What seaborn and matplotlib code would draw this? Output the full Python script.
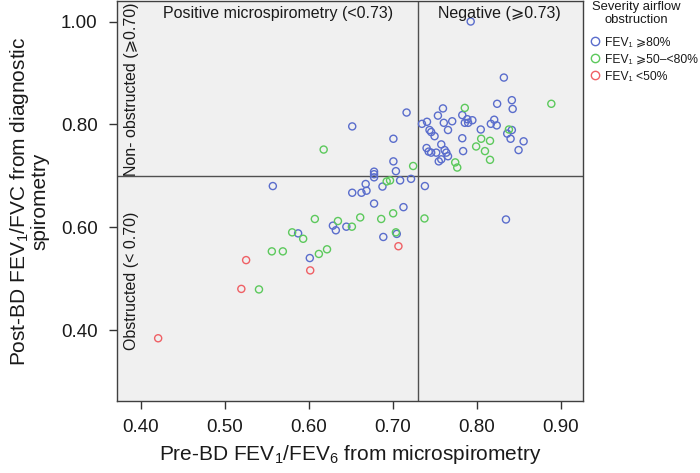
import matplotlib
matplotlib.use("Agg")
import matplotlib.pyplot as plt
from matplotlib.lines import Line2D
import seaborn as sns
import pandas as pd

# ---------------- data ----------------
blue_x = [0.793, 0.8325, 0.8245, 0.842, 0.843, 0.760, 0.7167, 0.652, 0.754, 0.783,
          0.789, 0.795, 0.786, 0.790, 0.771, 0.761, 0.741, 0.735, 0.766, 0.744,
          0.746, 0.750, 0.817, 0.821, 0.824, 0.805, 0.842, 0.8365, 0.8405, 0.856,
          0.850, 0.783, 0.784, 0.701, 0.758, 0.7405, 0.743, 0.746, 0.752, 0.762,
          0.764, 0.766, 0.758, 0.755, 0.701, 0.704, 0.678, 0.678, 0.678, 0.709,
          0.722, 0.5575, 0.7385, 0.668, 0.688, 0.652, 0.663, 0.669, 0.678, 0.713,
          0.835, 0.629, 0.6325, 0.645, 0.5876, 0.705, 0.689, 0.6015]
blue_y = [1.000, 0.891, 0.840, 0.847, 0.830, 0.831, 0.823, 0.796, 0.817, 0.818,
          0.810, 0.808, 0.803, 0.803, 0.806, 0.803, 0.805, 0.801, 0.789, 0.789,
          0.785, 0.777, 0.801, 0.809, 0.798, 0.790, 0.789, 0.782, 0.772, 0.767,
          0.750, 0.773, 0.748, 0.772, 0.761, 0.754, 0.747, 0.745, 0.745, 0.750,
          0.745, 0.738, 0.732, 0.728, 0.728, 0.709, 0.708, 0.703, 0.697, 0.691,
          0.694, 0.680, 0.680, 0.684, 0.679, 0.667, 0.667, 0.671, 0.646, 0.639,
          0.615, 0.603, 0.594, 0.601, 0.588, 0.587, 0.581, 0.540]

green_x = [0.889, 0.786, 0.8385, 0.8055, 0.816, 0.7995, 0.810, 0.816, 0.7746, 0.777,
           0.618, 0.7245, 0.693, 0.697, 0.7007, 0.738, 0.6865, 0.6615, 0.635, 0.6075,
           0.6516, 0.5805, 0.5936, 0.704, 0.5563, 0.5694, 0.622, 0.6123, 0.541]
green_y = [0.840, 0.832, 0.790, 0.772, 0.768, 0.757, 0.748, 0.731, 0.726, 0.716,
           0.751, 0.719, 0.689, 0.691, 0.627, 0.617, 0.616, 0.619, 0.612, 0.616,
           0.601, 0.590, 0.5775, 0.590, 0.553, 0.553, 0.557, 0.548, 0.479]

red_x = [0.707, 0.5257, 0.602, 0.520, 0.421]
red_y = [0.563, 0.536, 0.516, 0.480, 0.384]

severity_labels = ["FEV\u2081 \u2a7e80%", "FEV\u2081 \u2a7e50\u2013<80%", "FEV\u2081 <50%"]
legend_title = "Severity airflow\nobstruction"
x_ticks = [0.40, 0.50, 0.60, 0.70, 0.80, 0.90]
y_ticks = [0.40, 0.60, 0.80, 1.00]
x_cut = 0.73
y_cut = 0.70

colors = ["#5a6dcc", "#5cc95c", "#ef6065"]

df = pd.DataFrame({
    "micro": blue_x + green_x + red_x,
    "diag": blue_y + green_y + red_y,
    "severity": ([severity_labels[0]] * len(blue_x) + [severity_labels[1]] * len(green_x)
                 + [severity_labels[2]] * len(red_x)),
})

# ---------------- style ----------------
sns.set_style("ticks")
plt.rcParams["font.family"] = ["Liberation Sans", "DejaVu Sans"]
plt.rcParams["mathtext.fontset"] = "custom"
plt.rcParams["mathtext.rm"] = "Liberation Sans"
plt.rcParams["mathtext.it"] = "Liberation Sans:italic"
plt.rcParams["mathtext.bf"] = "Liberation Sans:bold"
plt.rcParams["mathtext.fallback"] = "stixsans"

fig = plt.figure(figsize=(7.0, 4.73), dpi=100)
ax = fig.add_axes([117 / 700, 1 - 401 / 473, 466 / 700, 401 / 473 - 0.002])
ax.set_facecolor("#f0f0f0")

sns.scatterplot(data=df, x="micro", y="diag", hue="severity", hue_order=severity_labels,
                palette=colors, s=26, linewidth=1.0, legend=False, ax=ax, zorder=3)
coll = ax.collections[0]
fcs = coll.get_facecolors()
coll.set_edgecolors(fcs)
coll.set_facecolors("none")

ax.axvline(x_cut, color="#505050", lw=1.0, zorder=2)
ax.axhline(y_cut, color="#505050", lw=1.0, zorder=2)

ax.set_xlim(0.372, 0.9267)
ax.set_ylim(0.262, 1.040)
ax.set_xticks(x_ticks)
ax.set_xticklabels([f"{v:.2f}" for v in x_ticks])
ax.set_yticks(y_ticks)
ax.set_yticklabels([f"{v:.2f}" for v in y_ticks])
ax.tick_params(axis="both", labelsize=13.5, length=6, width=1, color="#333333",
               labelcolor="#1a1a1a")
ax.tick_params(axis="x", pad=7)
ax.tick_params(axis="y", pad=8)

for s in ax.spines.values():
    s.set_color("#404040")
    s.set_linewidth(1.0)

ax.set_xlabel("Pre-BD FEV$_1$/FEV$_6$ from microspirometry", fontsize=15, color="#1a1a1a",
              labelpad=5)
ax.set_ylabel("Post-BD FEV$_1$/FVC from diagnostic\nspirometry", fontsize=15,
              color="#1a1a1a", labelpad=8, multialignment="center", linespacing=0.95)

# quadrant annotations
tkw = dict(fontsize=11.5, color="#1a1a1a", transform=ax.transAxes)
ax.text(0.345, 0.969, "Positive microspirometry (<0.73)", ha="center", va="center", **tkw)
ax.text(0.820, 0.969, "Negative (\u2a7e0.73)", ha="center", va="center", **tkw)
ax.text(0.031, 0.78, "Non- obstructed (\u2a7e0.70)", ha="center", va="center",
        rotation=90, **tkw)
ax.text(0.031, 0.30, "Obstructed (< 0.70)", ha="center", va="center", rotation=90, **tkw)

# legend (title drawn as a centred two-line text above the entries)
fig.text(636.5 / 700, 1 - 13.5 / 473, legend_title, ha="center", va="center",
         fontsize=9.4, color="#1a1a1a", linespacing=1.15)
handles = [Line2D([0], [0], marker="o", linestyle="none", markersize=6,
                  markerfacecolor="none", markeredgecolor=c, markeredgewidth=1.0)
           for c in colors]
leg = ax.legend(handles, severity_labels, loc="upper left",
                bbox_to_anchor=(587 / 700, 1 - 34 / 473), bbox_transform=fig.transFigure,
                frameon=False, fontsize=8.7, handletextpad=0.25,
                handlelength=1.0, labelspacing=0.42, borderaxespad=0, borderpad=0.2)
for t in leg.get_texts():
    t.set_color("#1a1a1a")

fig.savefig("out.png", dpi=100)
